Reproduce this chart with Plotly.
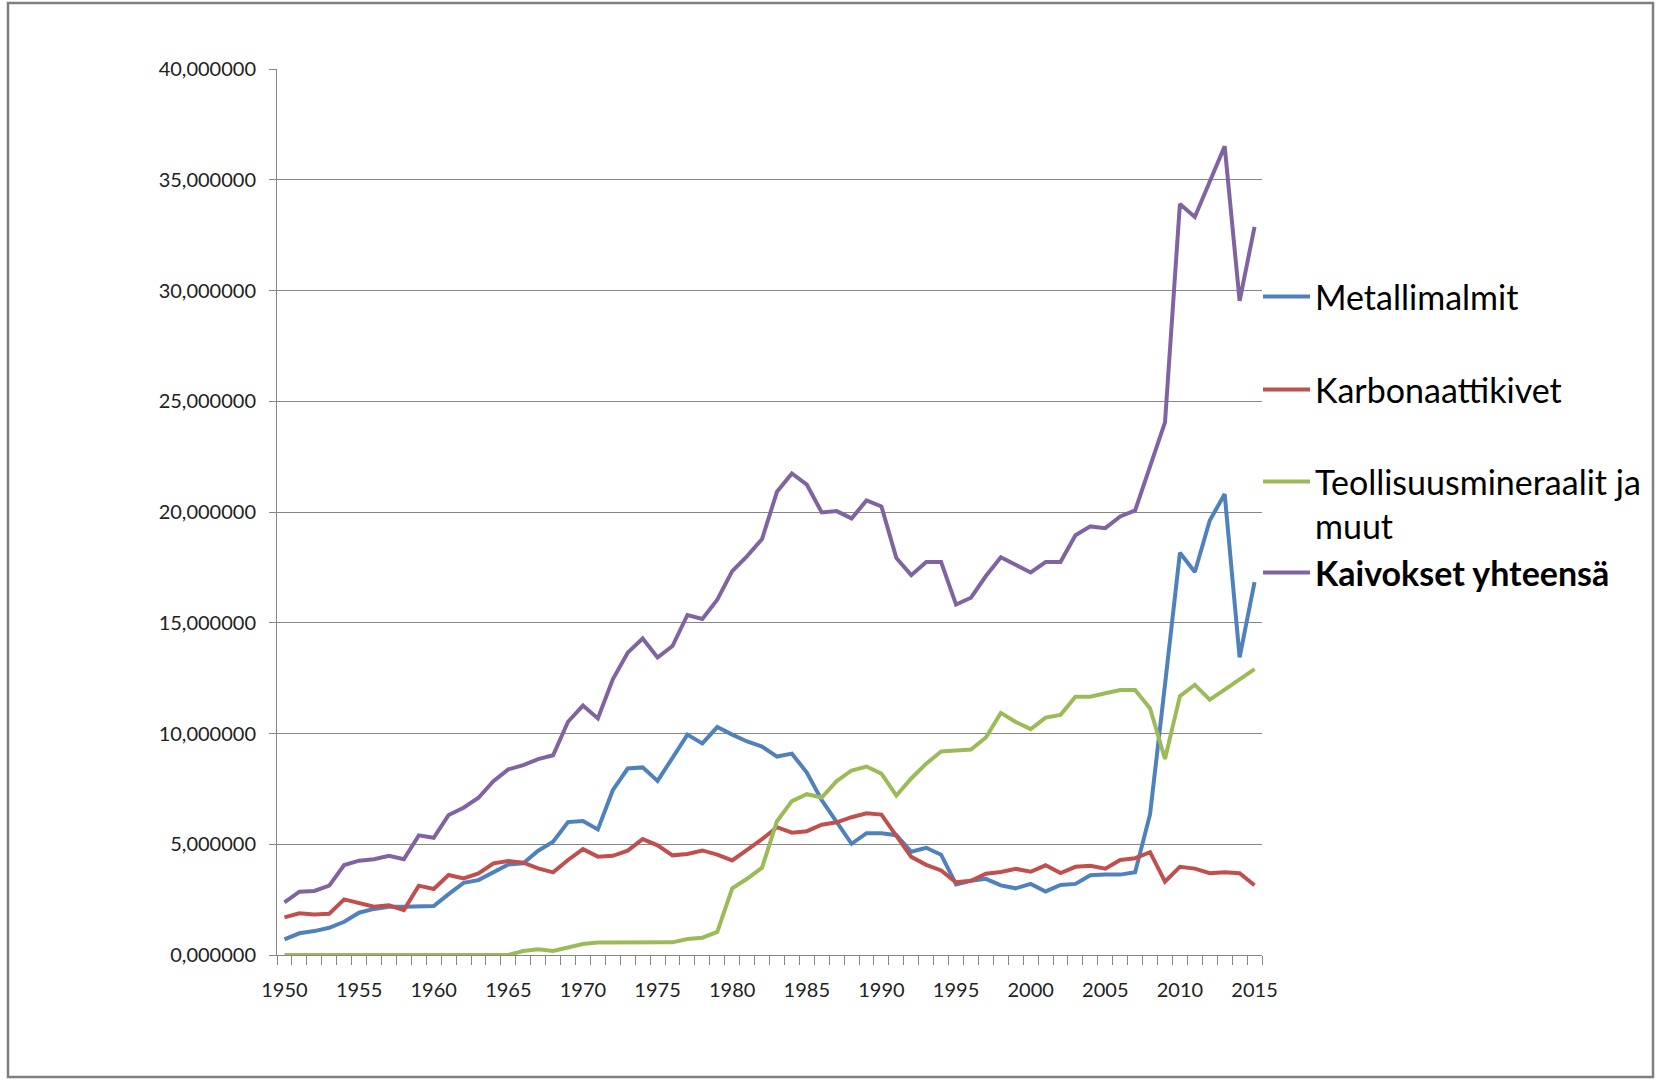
import plotly.graph_objects as go

years = list(range(1950, 2016))

metallimalmit = [
    0.71, 0.98, 1.08, 1.23, 1.50, 1.91, 2.08, 2.18, 2.18, 2.21,
    2.21, 2.75, 3.26, 3.38, 3.71, 4.09, 4.14, 4.71, 5.11, 6.00,
    6.05, 5.67, 7.44, 8.42, 8.47, 7.86, 8.90, 9.95, 9.55, 10.29,
    9.95, 9.64, 9.41, 8.96, 9.09, 8.24, 6.99, 6.04, 5.02, 5.50,
    5.50, 5.41, 4.66, 4.84, 4.53, 3.19, 3.35, 3.44, 3.14, 3.01,
    3.21, 2.87, 3.16, 3.21, 3.60, 3.63, 3.63, 3.74, 6.36, 12.2,
    18.16, 17.29, 19.62, 20.81, 13.44, 16.83,
]

karbonaattikivet = [
    1.70, 1.88, 1.83, 1.86, 2.51, 2.36, 2.18, 2.24, 2.03, 3.13,
    2.98, 3.61, 3.46, 3.68, 4.14, 4.24, 4.17, 3.91, 3.73, 4.29,
    4.78, 4.44, 4.48, 4.71, 5.23, 4.95, 4.50, 4.56, 4.72, 4.53,
    4.27, 4.75, 5.23, 5.77, 5.52, 5.59, 5.88, 5.99, 6.22, 6.40,
    6.34, 5.38, 4.43, 4.07, 3.82, 3.28, 3.35, 3.67, 3.75, 3.89,
    3.76, 4.05, 3.70, 3.98, 4.03, 3.90, 4.29, 4.37, 4.64, 3.31,
    3.98, 3.90, 3.69, 3.74, 3.69, 3.15,
]

teollisuusmineraalit = [
    0.0, 0.0, 0.0, 0.0, 0.0, 0.0, 0.0, 0.0, 0.0, 0.0,
    0.0, 0.0, 0.0, 0.0, 0.0, 0.0, 0.18, 0.26, 0.18, 0.33,
    0.50, 0.56, 0.56, 0.56, 0.60, 0.57, 0.57, 0.72, 0.78, 1.04,
    3.01, 3.44, 3.94, 6.04, 6.95, 7.26, 7.11, 7.85, 8.33, 8.51,
    8.19, 7.20, 7.97, 8.64, 9.19, 9.23, 9.28, 9.82, 10.93, 10.52,
    10.20, 10.72, 10.84, 11.66, 11.66, 11.82, 11.96, 11.96, 11.13, 8.85,
    11.69, 12.20, 11.53, 11.98, 12.43, 12.91,
]

kaivokset_yhteensa = [
    2.38, 2.86, 2.89, 3.13, 4.06, 4.26, 4.32, 4.48, 4.32, 5.40,
    5.29, 6.32, 6.65, 7.10, 7.85, 8.38, 8.57, 8.84, 9.02, 10.53,
    11.26, 10.68, 12.45, 13.65, 14.29, 13.43, 13.95, 15.35, 15.17, 16.04,
    17.33, 18.01, 18.78, 20.91, 21.74, 21.24, 19.98, 20.04, 19.71, 20.52,
    20.25, 17.92, 17.15, 17.74, 17.74, 15.82, 16.13, 17.11, 17.96, 17.60,
    17.27, 17.74, 17.74, 18.95, 19.35, 19.27, 19.80, 20.07, 22.06, 24.05,
    33.91, 33.32, 34.92, 36.51, 29.53, 32.87,
]

series_names = [
    "Metallimalmit",
    "Karbonaattikivet",
    "Teollisuusmineraalit ja<br>muut",
    "<b>Kaivokset yhteensä</b>",
]

y_tickvals = [0, 5, 10, 15, 20, 25, 30, 35, 40]
y_ticktext = ["0,000000", "5,000000", "10,000000", "15,000000", "20,000000",
              "25,000000", "30,000000", "35,000000", "40,000000"]
x_tickvals = [1950, 1955, 1960, 1965, 1970, 1975, 1980, 1985, 1990, 1995,
              2000, 2005, 2010, 2015]

colors = ["#4F81BD", "#C0504D", "#9BBB59", "#8064A2"]
series = [metallimalmit, karbonaattikivet, teollisuusmineraalit, kaivokset_yhteensa]
legend_ids = ["legend", "legend2", "legend3", "legend4"]

FONT = "Lato, 'Open Sans', sans-serif"
GRID = "#878787"

fig = go.Figure()
for name, vals, col, lg in zip(series_names, series, colors, legend_ids):
    fig.add_trace(go.Scatter(
        x=years, y=vals, mode="lines", name=name,
        line=dict(color=col, width=4),
        legend=lg,
    ))

# plot area geometry in pixels (1662 x 1081 page)
L, R, T, B = 277, 1262, 69, 955
W, H = 1662, 1081
pw, ph = R - L, B - T

def px(xp):
    return (xp - L) / pw

def py(yp):
    return (B - yp) / ph

leg_common = dict(
    font=dict(family=FONT, size=34, color="#000000"),
    bgcolor="rgba(0,0,0,0)",
    borderwidth=0,
    xanchor="left",
    itemwidth=47,
    itemclick=False,
)
leg_x = px(1258)

fig.update_layout(
    width=W, height=H,
    margin=dict(l=L, r=W - R, t=T, b=H - B, pad=0),
    paper_bgcolor="white",
    plot_bgcolor="white",
    font=dict(family=FONT, size=20, color="#222222"),
    showlegend=True,
    legend=dict(leg_common, x=leg_x, y=py(297), yanchor="middle"),
    legend2=dict(leg_common, x=leg_x, y=py(390), yanchor="middle"),
    legend3=dict(leg_common, x=leg_x, y=py(453), yanchor="top", valign="top"),
    legend4=dict(leg_common, x=leg_x, y=py(573), yanchor="middle"),
    xaxis=dict(
        range=[1949.5, 2015.5],
        tickmode="array", tickvals=x_tickvals,
        ticks="", showgrid=False, zeroline=False,
        showline=True, linecolor=GRID, linewidth=1,
        tickfont=dict(family=FONT, size=20, color="#222222"),
        ticklabelstandoff=17,
        minor=dict(ticks="outside", tickmode="linear", tick0=1949.5, dtick=1,
                   ticklen=9, tickcolor=GRID, tickwidth=1, showgrid=False),
    ),
    yaxis=dict(
        range=[0, 40],
        tickmode="array", tickvals=y_tickvals, ticktext=y_ticktext,
        ticks="outside", ticklen=7, tickcolor=GRID, tickwidth=1,
        showgrid=True, gridcolor=GRID, gridwidth=1,
        zeroline=False,
        showline=True, linecolor=GRID, linewidth=1,
        tickfont=dict(family=FONT, size=20, color="#222222"),
        ticklabelstandoff=9,
    ),
    shapes=[dict(
        type="rect", xref="paper", yref="paper",
        x0=px(8), x1=px(1653), y0=py(1077), y1=py(3),
        line=dict(color="#7F7F7F", width=2.5), fillcolor="rgba(0,0,0,0)",
        layer="above",
    )],
)

fig.write_html("out.html", config={"displayModeBar": False},
               post_script="document.body.style.margin='0px';")
